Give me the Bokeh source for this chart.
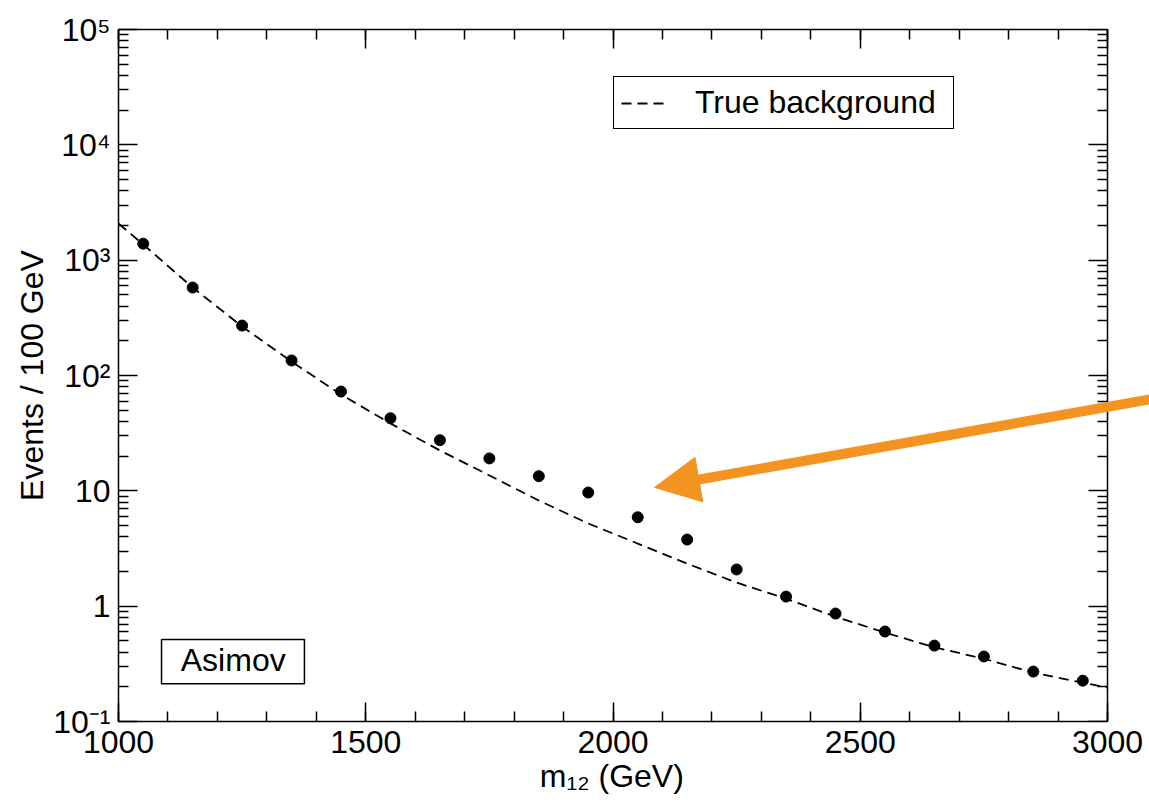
from bokeh.plotting import figure
from bokeh.models import (LinearAxis, LogAxis, FixedTicker, Arrow, NormalHead,
                          BoxAnnotation, Label, Legend, LegendItem)
from bokeh.embed import file_html
from bokeh.resources import INLINE

# ---------------- data ----------------
mass_bins = [1050, 1150, 1250, 1350, 1450, 1550, 1650, 1750, 1850, 1950,
             2050, 2150, 2250, 2350, 2450, 2550, 2650, 2750, 2850, 2950]
asimov_events = [1390, 579, 271, 135, 72.6, 42.6, 27.5, 19.1, 13.4, 9.67,
                 5.90, 3.78, 2.08, 1.21, 0.863, 0.603, 0.455, 0.366, 0.271, 0.226]

bkg_mass = [1000, 1050, 1150, 1250, 1350, 1450, 1550, 1650, 1750, 1850, 1950,
            2050, 2150, 2250, 2350, 2450, 2550, 2650, 2750, 2850, 2950, 3000]
bkg_events = [2080, 1368, 579, 266, 132, 68.4, 38.4, 22.4, 13.6, 8.24, 5.21,
              3.49, 2.34, 1.60, 1.16, 0.81, 0.59, 0.44, 0.35, 0.265, 0.217, 0.197]

x_major = [1000, 1500, 2000, 2500, 3000]
y_major = [0.1, 1, 10, 100, 1000, 10000, 100000]
y_labels = ["10\u207b\u00b9", "1", "10", "10\u00b2", "10\u00b3", "10\u2074", "10\u2075"]

legend_label = "True background"
box_label = "Asimov"
x_title = "m\u2081\u2082 (GeV)"
y_title = "Events / 100 GeV"

FONT = "Liberation Sans"
FS = "32px"
ORANGE = "#F39320"

W, H = 1149, 804
BL, BT, BB = 118, 29, 83
AXIS_END_PX = 1107                   # where the x axis (3000 GeV) ends
X0, X1 = 1000, 3000
# the frame runs to the page edge so the orange arrow can leave the axes box
x_view_end = X1 + (W - AXIS_END_PX) * (X1 - X0) / (AXIS_END_PX - BL)

p = figure(width=W, height=H, x_range=(X0, x_view_end), y_range=(0.1, 1e5),
           y_axis_type="log", output_backend="svg", toolbar_location=None,
           min_border_left=BL, min_border_right=0, min_border_top=BT,
           min_border_bottom=BB, background_fill_color="white",
           border_fill_color="white")
p.xgrid.visible = False
p.ygrid.visible = False
p.outline_line_color = None

x_ticker = FixedTicker(ticks=x_major,
                       minor_ticks=[m for m in range(1000, 3001, 100)])
y_minor = [k * m for m in y_major[:-1] for k in range(2, 10)]
y_ticker = FixedTicker(ticks=y_major, minor_ticks=y_minor)
overrides = {v: t for v, t in zip(y_major, y_labels)}


def style_axis(ax, labels=True):
    ax.axis_line_color = "black"
    ax.axis_line_width = 1.5
    ax.major_tick_line_color = "black"
    ax.major_tick_line_width = 1.5
    ax.minor_tick_line_color = "black"
    ax.minor_tick_line_width = 1.5
    ax.major_tick_in = 19
    ax.major_tick_out = 0
    ax.minor_tick_in = 10
    ax.minor_tick_out = 0
    ax.major_label_text_font = FONT
    ax.axis_label_text_font = FONT
    ax.axis_label_text_font_style = "normal"
    ax.axis_label_text_font_size = FS
    ax.axis_label_text_color = "black"
    ax.major_label_text_color = "black"
    if labels:
        ax.major_label_text_font_size = FS
    else:
        ax.major_label_text_font_size = "1px"
        ax.major_label_standoff = 0


xa = p.xaxis[0]
xa.ticker = x_ticker
xa.bounds = (X0, X1)
style_axis(xa)
# trailing no-break spaces re-centre the title under the 1000-3000 axis
xa.axis_label = x_title + "\u00a0" * 5
xa.major_label_standoff = 9
xa.axis_label_standoff = 2

ya = p.yaxis[0]
ya.ticker = y_ticker
style_axis(ya)
ya.major_label_overrides = overrides
ya.axis_label = y_title
ya.major_label_standoff = 8
ya.axis_label_standoff = 0

top_ax = LinearAxis(ticker=x_ticker, bounds=(X0, X1))
style_axis(top_ax, labels=False)
top_ax.major_label_overrides = {v: "" for v in x_major}
p.add_layout(top_ax, "above")

right_ax = LogAxis(ticker=y_ticker, fixed_location=X1)
style_axis(right_ax, labels=False)
right_ax.major_label_overrides = {v: "" for v in y_major}
p.add_layout(right_ax, "right")

# background curve and Asimov points
bkg_line = p.line(bkg_mass, bkg_events, line_color="black", line_width=1.8,
                  line_dash="10 6")
p.scatter(mass_bins, asimov_events, size=11, color="black")

legend = Legend(items=[LegendItem(label=legend_label, renderers=[bkg_line])],
                location=(495, 592), margin=0, padding=7, glyph_width=47,
                label_standoff=27, label_width=251,
                label_text_font=FONT, label_text_font_size=FS,
                label_text_color="black",
                border_line_color="black", border_line_width=1.5,
                border_line_alpha=1.0,
                background_fill_color="white", background_fill_alpha=1.0)
p.add_layout(legend)

# Asimov box
p.add_layout(BoxAnnotation(left=1087, right=1376, bottom=0.213, top=0.514,
                           fill_color="white", fill_alpha=1.0,
                           line_color="black", line_alpha=1.0, line_width=1.5))
p.add_layout(Label(x=1232, y=0.338, text=box_label, text_align="center",
                   text_baseline="middle", text_font=FONT,
                   text_font_size=FS, text_color="black"))

# orange arrow
p.add_layout(Arrow(x_start=3110, y_start=64.8, x_end=2084, y_end=10.7,
                   line_color=ORANGE, line_width=10,
                   end=NormalHead(size=45, fill_color=ORANGE, line_color=ORANGE,
                                  line_width=1)))

open("out.html", "w").write(file_html(p, INLINE))
